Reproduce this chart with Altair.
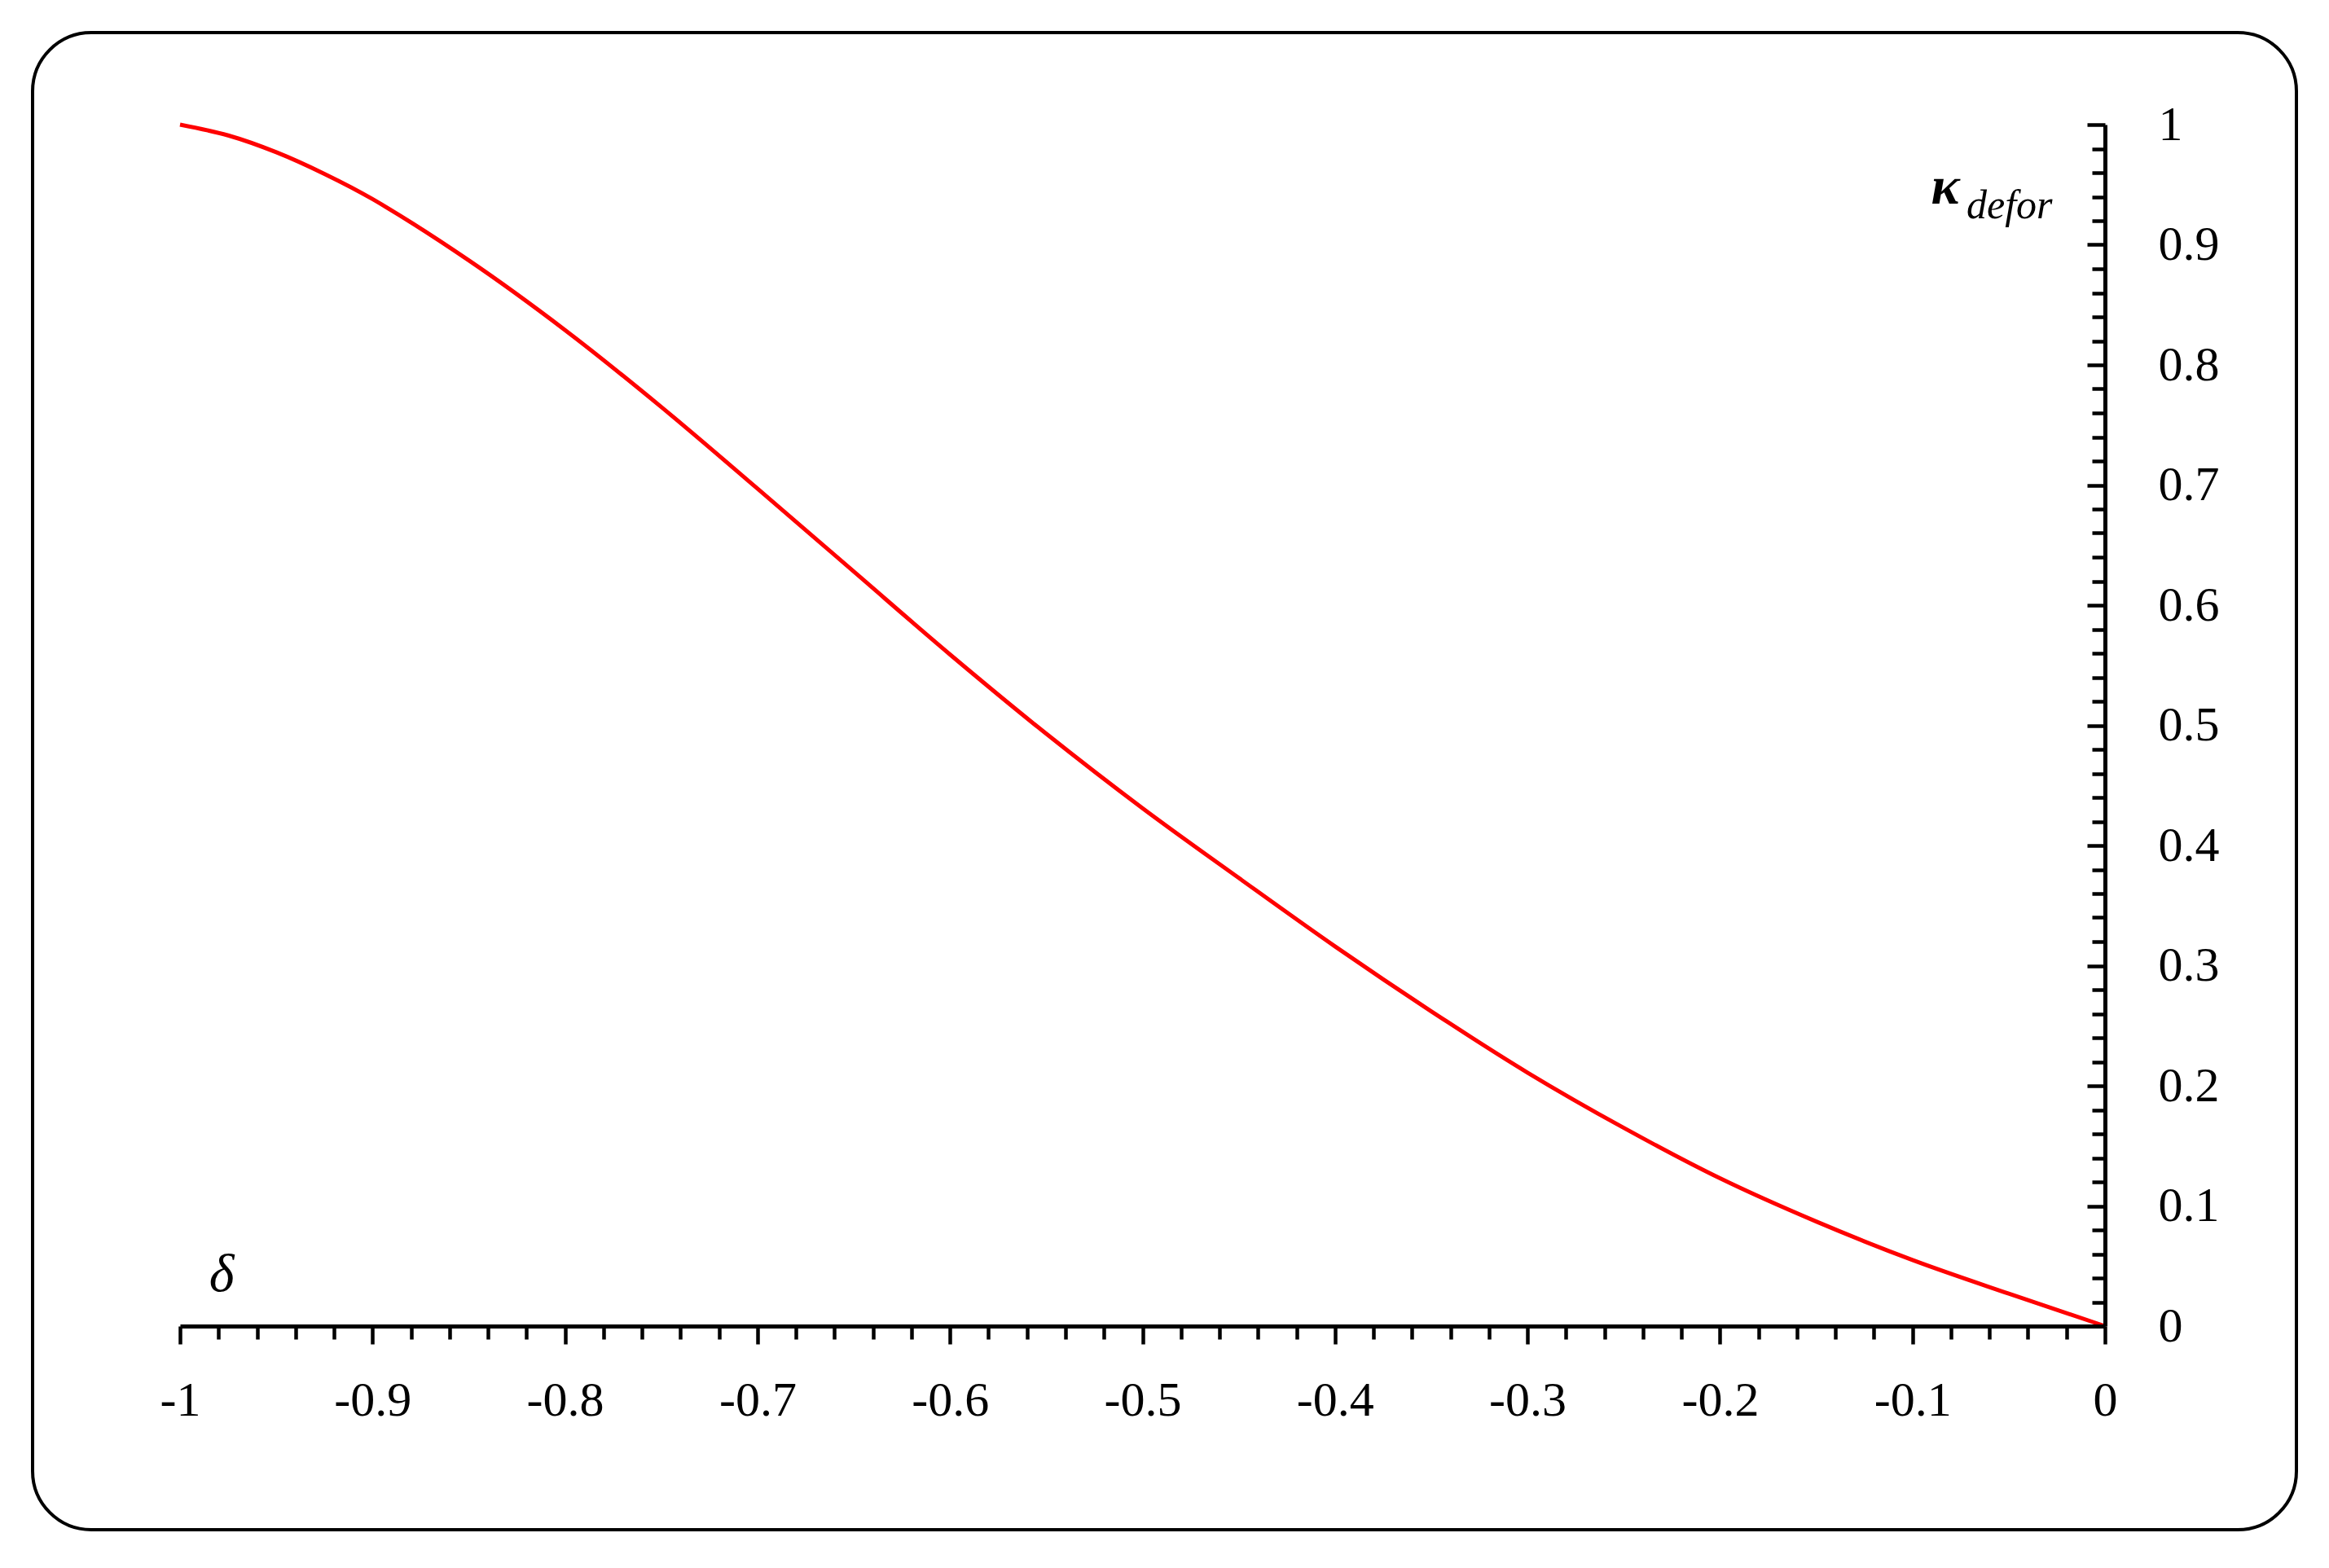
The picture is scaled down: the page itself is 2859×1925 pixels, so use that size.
import altair as alt
import pandas as pd

# data
delta = [-1.0, -0.975, -0.95, -0.925, -0.9, -0.85, -0.8, -0.75, -0.7, -0.65, -0.6,
         -0.55, -0.5, -0.45, -0.4, -0.35, -0.3, -0.25, -0.2, -0.15, -0.1, -0.05, 0.0]
kappa = [1.0, 0.991, 0.977, 0.959, 0.938, 0.887, 0.829, 0.765, 0.697, 0.628, 0.559,
         0.493, 0.431, 0.373, 0.316, 0.262, 0.211, 0.165, 0.123, 0.087, 0.055, 0.027, 0.0]

x_ticks = [round(-1 + i * 0.02, 2) for i in range(51)]
y_ticks = [round(i * 0.02, 2) for i in range(51)]
y_labels = [round(i * 0.1, 1) for i in range(11)]

W, H = 2363, 1475
FONT = "Liberation Serif"
MAJOR = "abs(datum.value*10 - round(datum.value*10)) < 0.001"

df = pd.DataFrame({"delta": delta, "kappa": kappa})
one = pd.DataFrame({"a": [0]})

xscale = alt.Scale(domain=[-1, 0], nice=False, zero=False)
yscale = alt.Scale(domain=[0, 1], nice=False, zero=False)

border = alt.Chart(one).mark_rect(
    cornerRadius=72, filled=False, stroke="black", strokeWidth=4
).encode(x=alt.value(-181), x2=alt.value(2598), y=alt.value(-113), y2=alt.value(1725))

line = alt.Chart(df).mark_line(color="#FF0000", strokeWidth=5, interpolate="catmull-rom").encode(
    x=alt.X("delta:Q", scale=xscale, axis=alt.Axis(
        orient="bottom", values=x_ticks, title=None, grid=False, zindex=1,
        tickSize={"condition": {"test": MAJOR, "value": 22}, "value": 16},
        tickWidth=4.5, tickColor="black", domainColor="black", domainWidth=5,
        labelExpr=f"{MAJOR} ? '' + datum.value : ''",
        labelFont=FONT, labelFontSize=60, labelColor="black", labelPadding=40,
        labelFlush=False, labelOverlap=False)),
    y=alt.Y("kappa:Q", scale=yscale, axis=alt.Axis(
        orient="right", values=y_labels, title=None, grid=False, zindex=1,
        ticks=False, tickSize=0, domainColor="black", domainWidth=5,
        labelExpr="'' + datum.value", labelAlign="left", labelBaseline="middle",
        labelFont=FONT, labelFontSize=60, labelColor="black", labelPadding=65,
        labelFlush=False, labelOverlap=False)),
)

ticks_y = alt.Chart(df).mark_point(opacity=0).encode(
    x=alt.value(0),
    y=alt.Y("kappa:Q", scale=yscale, axis=alt.Axis(
        orient="left", offset=-W, values=y_ticks, title=None, grid=False, zindex=1,
        labels=False, domain=False,
        tickSize={"condition": {"test": MAJOR, "value": 22}, "value": 16},
        tickWidth=4.5, tickColor="black")),
)

t_delta = alt.Chart(one).mark_text(
    text="δ", font=FONT, fontSize=66, fontStyle="italic", align="center", baseline="middle", color="black"
).encode(x=alt.value(51), y=alt.value(1412))

t_kappa = alt.Chart(one).mark_text(
    text="κ", font=FONT, fontSize=66, fontStyle="italic", fontWeight="bold",
    align="center", baseline="alphabetic", color="black"
).encode(x=alt.value(2167), y=alt.value(97))

t_sub = alt.Chart(one).mark_text(
    text="defor", font=FONT, fontSize=50, fontStyle="italic",
    align="left", baseline="alphabetic", color="black"
).encode(x=alt.value(2193), y=alt.value(115))

chart = alt.layer(border, line, ticks_y, t_delta, t_kappa, t_sub).resolve_axis(
    y="independent"
).properties(
    width=W, height=H, background="white",
    padding={"left": 30, "top": 30, "right": 30, "bottom": 30},
).configure_view(strokeWidth=0)

chart.save("out.html", embed_options={"renderer": "svg", "actions": False})
